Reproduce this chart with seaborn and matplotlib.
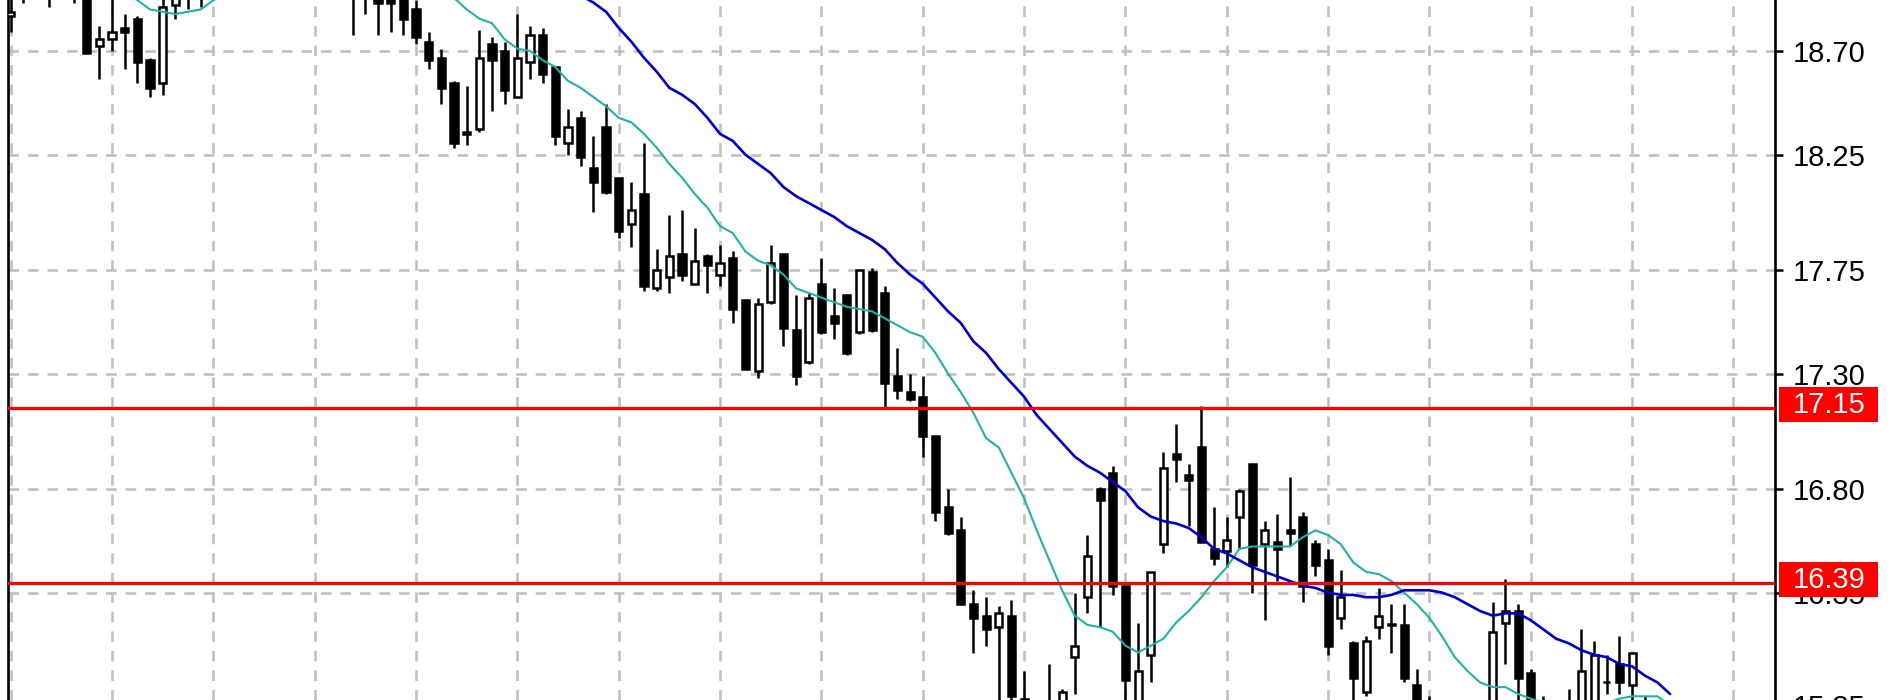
# coding: utf-8
"""
Graphique en chandeliers (style MetaTrader) avec deux moyennes mobiles
et deux niveaux horizontaux.
"""

import numpy as np
import pandas as pd
import matplotlib
matplotlib.use("Agg")
import matplotlib.pyplot as plt
import matplotlib.transforms as mtrans
from matplotlib.patches import Rectangle
import seaborn as sns

nan = np.nan

# ---- données (une valeur par bougie) ----
opens = [
    18.85, 18.97, 19.00, 19.02, 18.97, 19.01, 18.96, 18.72, 18.75, 18.80,
    18.84, 18.66, 18.56, 18.90, 18.95, 18.99, 18.96, 19.03, 19.08, 19.05,
    19.12, 19.09, 19.14, 19.10, 19.06, 19.10, 19.04, 19.00, 18.96, 18.99,
    18.96, 18.93, 18.88, 18.74, 18.67, 18.56, 18.35, 18.36, 18.73, 18.70,
    18.50, 18.65, 18.77, 18.63, 18.30, 18.41, 18.19, 18.37, 18.15, 17.95,
    18.08, 17.67, 17.72, 17.82, 17.69, 17.81, 17.73, 17.80, 17.62, 17.31,
    17.61, 17.82, 17.49, 17.35, 17.69, 17.55, 17.64, 17.48, 17.74, 17.65,
    17.29, 17.22, 17.20, 17.03, 16.72, 16.62, 16.30, 16.25, 16.20, 16.25,
    15.89, 15.85, 15.80, 15.84, 16.07, 16.33, 16.80, 16.87, 16.38, 15.82,
    16.08, 16.56, 16.95, 16.86, 16.98, 16.54, 16.53, 16.68, 16.91, 16.56,
    16.57, 16.62, 16.68, 16.56, 16.49, 16.24, 16.13, 15.92, 16.20, 16.21,
    16.21, 15.95, 15.82, 15.78, 15.72, 15.68, 15.74, 15.80, 16.22, 16.27,
    16.00, 15.84, 15.80, 15.76, 15.82, 15.86, 15.96, 16.04, 15.95, 15.86,
    15.80, 15.76,
]
highs = [
    18.96, 19.05, 19.08, 19.06, 19.07, 19.04, 18.99, 18.81, 18.95, 18.86,
    18.85, 18.67, 18.93, 19.00, 19.03, 19.04, 19.06, 19.12, 19.13, 19.16,
    19.18, 19.19, 19.17, 19.14, 19.13, 19.12, 19.08, 19.04, 19.03, 19.02,
    18.98, 18.96, 18.92, 18.78, 18.71, 18.57, 18.55, 18.79, 18.76, 18.74,
    18.86, 18.81, 18.80, 18.63, 18.45, 18.44, 18.33, 18.47, 18.15, 18.13,
    18.30, 17.84, 17.99, 18.01, 17.93, 17.82, 17.86, 17.83, 17.62, 17.63,
    17.86, 17.82, 17.64, 17.65, 17.80, 17.67, 17.64, 17.75, 17.76, 17.68,
    17.41, 17.30, 17.29, 17.03, 16.80, 16.68, 16.36, 16.33, 16.29, 16.32,
    16.01, 15.87, 16.04, 15.93, 16.35, 16.60, 16.81, 16.90, 16.38, 16.22,
    16.44, 16.96, 17.08, 16.91, 17.16, 16.72, 16.68, 16.80, 16.91, 16.66,
    16.69, 16.85, 16.70, 16.58, 16.54, 16.45, 16.14, 16.16, 16.37, 16.30,
    16.30, 16.02, 15.90, 15.84, 15.80, 15.82, 15.86, 16.31, 16.41, 16.30,
    16.02, 15.90, 15.86, 15.93, 16.19, 16.14, 16.08, 16.16, 16.09, 15.90,
    15.86, 15.82,
]
lows = [
    18.78, 18.91, 18.95, 18.89, 18.94, 18.91, 18.69, 18.58, 18.70, 18.62,
    18.56, 18.50, 18.51, 18.84, 18.88, 18.89, 18.94, 19.00, 19.01, 19.02,
    19.04, 19.05, 19.06, 19.00, 19.01, 18.99, 18.95, 18.77, 18.86, 18.77,
    18.78, 18.77, 18.73, 18.62, 18.47, 18.28, 18.29, 18.35, 18.44, 18.47,
    18.50, 18.58, 18.56, 18.29, 18.25, 18.20, 18.00, 18.08, 17.89, 17.85,
    17.66, 17.66, 17.65, 17.70, 17.69, 17.65, 17.68, 17.52, 17.32, 17.28,
    17.60, 17.42, 17.25, 17.34, 17.47, 17.45, 17.38, 17.47, 17.48, 17.15,
    17.19, 17.18, 16.94, 16.66, 16.60, 16.30, 16.09, 16.12, 15.80, 15.86,
    15.78, 15.72, 15.72, 15.78, 15.91, 16.26, 16.20, 16.34, 15.85, 15.78,
    15.96, 16.52, 16.83, 16.64, 16.57, 16.47, 16.46, 16.54, 16.35, 16.23,
    16.40, 16.55, 16.31, 16.42, 16.08, 16.19, 15.85, 15.90, 16.15, 16.09,
    15.96, 15.76, 15.70, 15.66, 15.60, 15.62, 15.70, 15.76, 16.04, 15.87,
    15.80, 15.74, 15.70, 15.72, 15.80, 15.84, 15.91, 15.91, 15.88, 15.74,
    15.70, 15.66,
]
closes = [
    18.87, 19.00, 19.03, 18.97, 19.01, 18.96, 18.69, 18.75, 18.78, 18.78,
    18.65, 18.54, 18.89, 18.95, 18.99, 18.96, 19.03, 19.08, 19.05, 19.12,
    19.09, 19.14, 19.10, 19.06, 19.10, 19.04, 19.00, 18.96, 18.99, 18.91,
    18.91, 18.84, 18.76, 18.66, 18.54, 18.30, 18.34, 18.67, 18.66, 18.53,
    18.67, 18.77, 18.60, 18.33, 18.37, 18.24, 18.13, 18.09, 17.92, 18.01,
    17.68, 17.75, 17.81, 17.73, 17.79, 17.77, 17.78, 17.58, 17.32, 17.60,
    17.78, 17.50, 17.29, 17.63, 17.48, 17.52, 17.39, 17.75, 17.49, 17.26,
    17.23, 17.19, 17.03, 16.70, 16.61, 16.30, 16.24, 16.19, 16.26, 15.90,
    15.86, 15.80, 15.84, 15.92, 16.12, 16.51, 16.75, 16.38, 15.97, 16.01,
    16.44, 16.89, 16.93, 16.84, 16.57, 16.50, 16.58, 16.79, 16.47, 16.62,
    16.54, 16.61, 16.38, 16.47, 16.12, 16.33, 15.98, 16.14, 16.25, 16.21,
    15.98, 15.80, 15.78, 15.72, 15.68, 15.74, 15.80, 16.18, 16.27, 15.98,
    15.84, 15.80, 15.76, 15.82, 16.01, 16.08, 15.96, 15.96, 16.09, 15.80,
    15.76, 15.72,
]
# moyenne mobile courte (turquoise) et longue (bleue), nan = hors cadre
ma_fast = [
    nan, nan, nan, nan, nan, nan, nan, nan, nan, 18.96,
    18.92, 18.88, 18.87, 18.86, 18.87, 18.88, 18.92, 18.95, 18.98, nan,
    nan, nan, nan, nan, nan, nan, nan, nan, nan, nan,
    nan, nan, nan, 18.99, 18.96, 18.93, 18.88, 18.84, 18.82, 18.75,
    18.71, 18.70, 18.66, 18.63, 18.57, 18.54, 18.50, 18.46, 18.41, 18.39,
    18.34, 18.28, 18.21, 18.15, 18.08, 18.02, 17.94, 17.91, 17.83, 17.79,
    17.77, 17.73, 17.67, 17.65, 17.63, 17.61, 17.59, 17.58, 17.57, 17.54,
    17.51, 17.48, 17.46, 17.39, 17.30, 17.22, 17.13, 17.02, 16.98, 16.87,
    16.76, 16.62, 16.49, 16.36, 16.25, 16.21, 16.20, 16.18, 16.12, 16.09,
    16.12, 16.15, 16.22, 16.27, 16.33, 16.40, 16.46, 16.54, 16.55, 16.55,
    16.55, 16.55, 16.59, 16.62, 16.60, 16.56, 16.48, 16.44, 16.43, 16.40,
    16.35, 16.30, 16.24, 16.16, 16.07, 16.01, 15.96, 15.94, 15.94, 15.91,
    15.89, 15.87, 15.86, 15.85, 15.85, 15.86, 15.87, 15.89, 15.90, 15.90,
    15.90, 15.86,
]
ma_slow = [
    nan, nan, nan, nan, nan, nan, nan, nan, nan, nan,
    nan, nan, nan, nan, nan, nan, nan, nan, nan, nan,
    nan, nan, nan, nan, nan, nan, nan, nan, nan, nan,
    nan, nan, nan, nan, nan, nan, nan, nan, nan, nan,
    nan, nan, nan, 19.01, 18.98, 18.94, 18.91, 18.87, 18.80, 18.74,
    18.67, 18.61, 18.54, 18.51, 18.47, 18.41, 18.34, 18.31, 18.25, 18.21,
    18.17, 18.11, 18.07, 18.04, 18.01, 17.98, 17.94, 17.91, 17.88, 17.84,
    17.78, 17.73, 17.69, 17.63, 17.57, 17.52, 17.44, 17.39, 17.32, 17.26,
    17.20, 17.12, 17.06, 17.00, 16.94, 16.90, 16.87, 16.83, 16.79, 16.72,
    16.68, 16.66, 16.65, 16.63, 16.59, 16.54, 16.52, 16.49, 16.46, 16.44,
    16.42, 16.40, 16.38, 16.37, 16.35, 16.34, 16.34, 16.33, 16.33, 16.34,
    16.36, 16.36, 16.36, 16.35, 16.33, 16.30, 16.27, 16.25, 16.26, 16.26,
    16.23, 16.19, 16.15, 16.13, 16.10, 16.08, 16.07, 16.04, 16.03, 15.99,
    15.96, 15.91,
]
levels = [17.15, 16.39]
price_ticks = [18.70, 18.25, 17.75, 17.30, 16.80, 16.35]
bottom_tick = 15.85

df = pd.DataFrame({"bar": np.arange(len(opens)), "open": opens, "high": highs,
                   "low": lows, "close": closes, "ma_fast": ma_fast,
                   "ma_slow": ma_slow})

sns.set_style("white")
plt.rcParams["font.family"] = ["Liberation Sans", "DejaVu Sans"]

W, H = 1900, 700
fig = plt.figure(figsize=(W / 100, H / 100), dpi=100)
ax_left, ax_right = 8, 1775
ax = fig.add_axes([ax_left / W, 0, (ax_right - ax_left) / W, 1])
ax.set_facecolor("white")

# grille pointillée grise
ax.set_axisbelow(True)
ax.set_xticks(np.arange(0, 140, 8))
ax.set_yticks(price_ticks)
ax.set_yticklabels([f"{v:.2f}" for v in price_ticks])
ax.grid(True, color="#c0c0c0", linewidth=1.9, linestyle=(0, (4, 3.4)))

# bougies
up = df["close"] >= df["open"]
ax.vlines(df["bar"], df["low"], df["high"], color="black", linewidth=1.8, zorder=3)
body_bottom = df[["open", "close"]].min(axis=1)
body_height = (df["close"] - df["open"]).abs().clip(lower=0.004)
ax.bar(df["bar"], body_height, bottom=body_bottom, width=0.56,
       color=np.where(up, "white", "black"), edgecolor="black", linewidth=1.8,
       zorder=4)

# moyennes mobiles
sns.lineplot(data=df, x="bar", y="ma_fast", ax=ax, color="#20b2aa",
             linewidth=1.5, zorder=5)
sns.lineplot(data=df, x="bar", y="ma_slow", ax=ax, color="#0000cd",
             linewidth=1.9, zorder=5)

# niveaux horizontaux
blend = mtrans.blended_transform_factory(ax.transAxes, ax.transData)
px = 1.0 / (ax_right - ax_left)
ppu = 230.5  # pixels par unité de prix
for lvl in levels:
    ax.axhline(lvl, color="#ff0000", linewidth=2.3, zorder=6)
    ax.add_patch(Rectangle((1 + 4 * px, lvl - 14 / ppu), 99 * px, 35 / ppu,
                           transform=blend, facecolor="#ff0000",
                           edgecolor="none", clip_on=False, zorder=7))
    ax.text(1 + 54 * px, lvl + 3.5 / ppu, f"{lvl:.2f}", transform=blend,
            ha="center", va="center", color="white", fontsize=21,
            clip_on=False, zorder=8)

ax.text(1 + 18 * px, bottom_tick, f"{bottom_tick:.2f}", transform=blend,
        ha="left", va="center", color="black", fontsize=21, clip_on=False)

ax.set_xlim(-0.21, 139.28)
ax.set_ylim(15.884, 18.921)

ax.yaxis.tick_right()
ax.tick_params(axis="y", which="both", right=True, left=False, length=5.8,
               width=1.8, color="black", pad=7, labelsize=21,
               labelcolor="black")
ax.tick_params(axis="x", which="both", bottom=False, labelbottom=False)
ax.set_xlabel(None)
ax.set_ylabel(None)
for side in ["top", "bottom"]:
    ax.spines[side].set_visible(False)
for side in ["left", "right"]:
    ax.spines[side].set_visible(True)
    ax.spines[side].set_color("black")
    ax.spines[side].set_linewidth(1.9)

fig.savefig("out.png", dpi=100)
